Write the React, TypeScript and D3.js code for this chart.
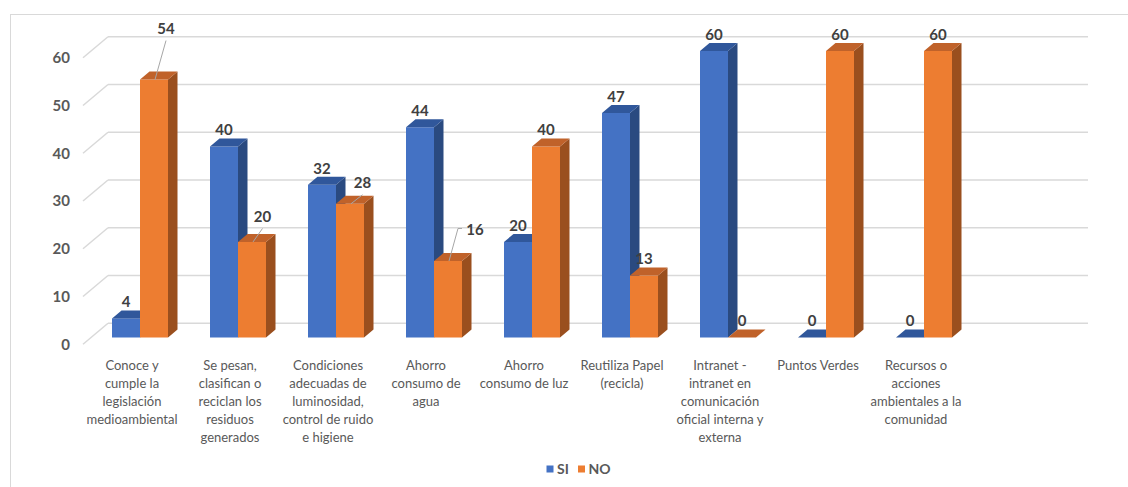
import React from "react";
import * as d3 from "d3";

const categories = [
  "Conoce y\ncumple la\nlegislación\nmedioambiental",
  "Se pesan,\nclasifican o\nreciclan los\nresiduos\ngenerados",
  "Condiciones\nadecuadas de\nluminosidad,\ncontrol de ruido\ne higiene",
  "Ahorro\nconsumo de\nagua",
  "Ahorro\nconsumo de luz",
  "Reutiliza Papel\n(recicla)",
  "Intranet -\nintranet en\ncomunicación\noficial interna y\nexterna",
  "Puntos Verdes",
  "Recursos o\nacciones\nambientales a la\ncomunidad",
];
const seriesNames = ["SI", "NO"];
const siValues = [4, 40, 32, 44, 20, 47, 60, 0, 0];
const noValues = [54, 20, 28, 16, 40, 13, 0, 60, 60];
const yTicks = [0, 10, 20, 30, 40, 50, 60];

// styling
const colors: Record<string, { front: string; top: string; side: string }> = {
  SI: { front: "#4472C4", top: "#30579b", side: "#2a4a80" },
  NO: { front: "#ED7D31", top: "#c0622a", side: "#9a4f1e" },
};
const labelNudges: Record<string, [number, number]> = {
  "NO-0": [12, -34.5],
  "NO-1": [10.5, -9],
  "NO-2": [12.5, -4.5],
  "NO-3": [27, -14.6],
};

const W = 1128;
const H = 487;
const DEPTH_DX = 9.5;
const DEPTH_DY = -8;
const WALL_DX = 25;
const WALL_DY = -21;
const FRONT_SHIFT = 14.2;
const FONT = "Lato, 'Open Sans', sans-serif";

export default function App() {
  const yBack = d3.scaleLinear().domain([0, 60]).range([323.3, 36.7]);
  const x = d3.scaleBand<string>().domain(categories).range([91, 973]);
  const xs = d3.scaleBand<string>().domain(seriesNames).range([21, 77]);
  const wallLeft = 108;
  const wallRight = 1088;

  const seriesData = [siValues, noValues];

  const bars: JSX.Element[] = [];
  const labels: JSX.Element[] = [];

  categories.forEach((c, i) => {
    seriesNames.forEach((s, si) => {
      const v = seriesData[si][i];
      const x0 = (x(c) as number) + (xs(s) as number);
      const w = xs.bandwidth();
      const yb = yBack(0) + FRONT_SHIFT;
      const yt = yBack(v) + FRONT_SHIFT;
      const col = colors[s];
      const front = `M${x0},${yb}L${x0 + w},${yb}L${x0 + w},${yt}L${x0},${yt}Z`;
      const top = `M${x0},${yt}L${x0 + DEPTH_DX},${yt + DEPTH_DY}L${x0 + w + DEPTH_DX},${yt + DEPTH_DY}L${x0 + w},${yt}Z`;
      const side = `M${x0 + w},${yb}L${x0 + w + DEPTH_DX},${yb + DEPTH_DY}L${x0 + w + DEPTH_DX},${yt + DEPTH_DY}L${x0 + w},${yt}Z`;
      bars.push(
        <g key={`b-${s}-${i}`}>
          {v > 0 && <path d={side} fill={col.side} />}
          {v > 0 && <path d={front} fill={col.front} />}
          <path d={top} fill={col.top} />
        </g>
      );
      const cx = x0 + w / 2;
      const defX = cx;
      const defY = yt - 16.5;
      const nudge = labelNudges[`${s}-${i}`];
      const lx = nudge ? defX + nudge[0] : defX;
      const ly = nudge ? defY + nudge[1] : defY;
      if (nudge) {
        const ex = cx + 1;
        const ey = yt;
        const ddx = lx - ex;
        const ddy = ly - ey;
        let d: string;
        if (Math.abs(ddy) > 1.4 * Math.abs(ddx)) {
          d = `M${lx},${ly + 12}L${ex},${ey}`;
        } else {
          d = `M${lx - 13},${ly - 1.5}L${lx - 17},${ly - 1.5}L${ex},${ey}`;
        }
        labels.push(
          <path key={`ll-${s}-${i}`} d={d} stroke="#a6a6a6" strokeWidth={1} fill="none" />
        );
      }
      labels.push(
        <text
          key={`l-${s}-${i}`}
          x={lx}
          y={ly}
          dy="0.36em"
          textAnchor="middle"
          fontFamily={FONT}
          fontWeight={700}
          fontSize={15}
          fill="#404040"
        >
          {v}
        </text>
      );
    });
  });

  return (
    <svg
      width={W}
      height={H}
      style={{ position: "absolute", left: 0, top: 0, background: "#fff" }}
    >
      <rect x={0} y={0} width={W} height={H} fill="#fff" />
      <rect x={10.5} y={14.5} width={W + 20} height={H + 20} fill="none" stroke="#d9d9d9" strokeWidth={1} />
      {/* gridlines */}
      {yTicks.map((t) => (
        <g key={`g-${t}`}>
          <line
            x1={wallLeft}
            x2={wallRight}
            y1={yBack(t)}
            y2={yBack(t)}
            stroke="#d9d9d9"
            strokeWidth={1.5}
          />
          <line
            x1={wallLeft - WALL_DX}
            y1={yBack(t) - WALL_DY}
            x2={wallLeft}
            y2={yBack(t)}
            stroke="#d9d9d9"
            strokeWidth={1.5}
          />
          <text
            x={70}
            y={yBack(t) - WALL_DY}
            dy="0.36em"
            textAnchor="end"
            fontFamily={FONT}
            fontWeight={700}
            fontSize={15}
            fill="#595959"
          >
            {t}
          </text>
        </g>
      ))}
      {bars}
      {labels}
      {/* category labels */}
      {categories.map((c) => {
        const cx = (x(c) as number) + x.bandwidth() / 2 - 8;
        return (
          <text
            key={`c-${c}`}
            textAnchor="middle"
            fontFamily={FONT}
            fontSize={13}
            fill="#595959"
          >
            {c.split("\n").map((line, li) => (
              <tspan key={li} x={cx} y={365 + li * 18} dy="0.35em">
                {line}
              </tspan>
            ))}
          </text>
        );
      })}
      {/* legend */}
      {seriesNames.map((s, i) => {
        const lx = 546.5 + i * 31.5;
        return (
          <g key={`lg-${s}`}>
            <rect x={lx} y={465.5} width={7} height={7} fill={colors[s].front} />
            <text
              x={lx + 10.5}
              y={469}
              dy="0.36em"
              fontFamily={FONT}
              fontWeight={700}
              fontSize={14}
              fill="#595959"
            >
              {s}
            </text>
          </g>
        );
      })}
    </svg>
  );
}
